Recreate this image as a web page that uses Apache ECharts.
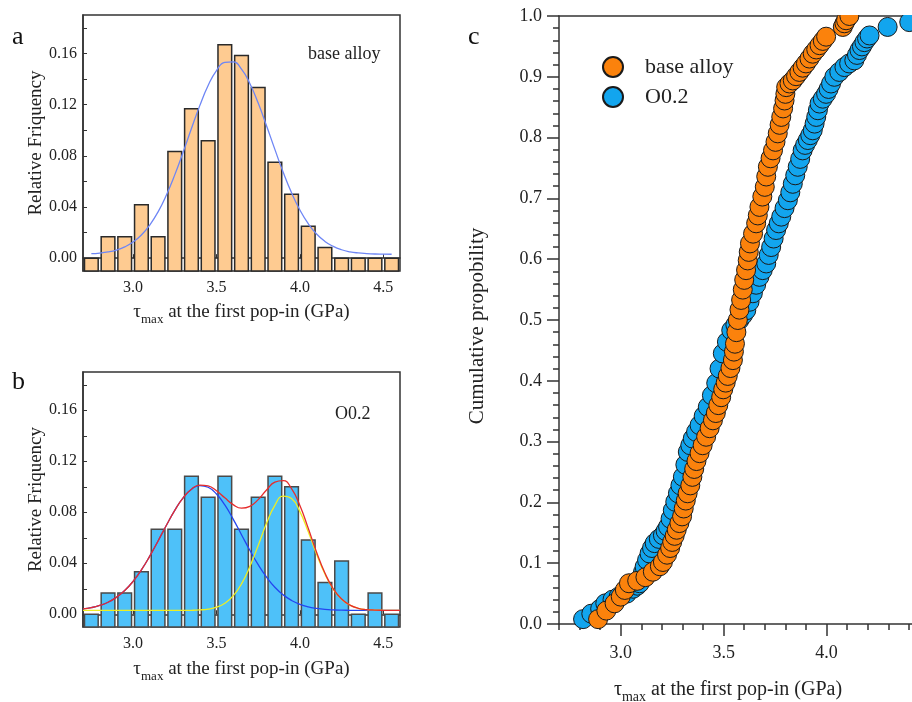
<!DOCTYPE html>
<html>
<head>
<meta charset="utf-8">
<script src="https://cdn.jsdelivr.net/npm/echarts@6/dist/echarts.min.js"></script>
<style>
  html, body { margin: 0; padding: 0; background: #fff; }
  #chart { width: 912px; height: 702px; }
</style>
</head>
<body>
<div id="chart"></div>
<script>
// histogram bins (centers, GPa)
const binCenters = [2.75, 2.85, 2.95, 3.05, 3.15, 3.25, 3.35, 3.45, 3.55, 3.65, 3.75, 3.85, 3.95, 4.05, 4.15, 4.25, 4.35, 4.45, 4.55];
const freqBase = [0, 0.0167, 0.0167, 0.0417, 0.0167, 0.0833, 0.1167, 0.0917, 0.1667, 0.1583, 0.1333, 0.075, 0.05, 0.025, 0.0083, 0, 0, 0, 0];
const freqO02 = [0, 0.0167, 0.0167, 0.0333, 0.0667, 0.0667, 0.1083, 0.0917, 0.1083, 0.0667, 0.0917, 0.1083, 0.1, 0.0583, 0.025, 0.0417, 0, 0.0167, 0];

// fitted curve
const fitXa = [2.75, 2.80, 2.85, 2.90, 2.95, 3.00, 3.05, 3.10, 3.15, 3.20, 3.25, 3.30, 3.35, 3.40, 3.45, 3.50, 3.55, 3.60, 3.65, 3.70, 3.75, 3.80, 3.85, 3.90, 3.95, 4.00, 4.05, 4.10, 4.15, 4.20, 4.25, 4.30, 4.35, 4.40, 4.45, 4.50, 4.55];
const fitBase = [0.0035, 0.0040, 0.0049, 0.0064, 0.0088, 0.0126, 0.0181, 0.0259, 0.0362, 0.0494, 0.0651, 0.0827, 0.1013, 0.1192, 0.1349, 0.1466, 0.1530, 0.1534, 0.1477, 0.1365, 0.1212, 0.1035, 0.0850, 0.0671, 0.0511, 0.0377, 0.0270, 0.0189, 0.0131, 0.0092, 0.0066, 0.0050, 0.0041, 0.0036, 0.0033, 0.0032, 0.0031];

// fitted curves (sum, peak 1, peak 2)
const fitXb = [2.70, 2.75, 2.80, 2.85, 2.90, 2.95, 3.00, 3.05, 3.10, 3.15, 3.20, 3.25, 3.30, 3.35, 3.40, 3.45, 3.50, 3.55, 3.60, 3.65, 3.70, 3.75, 3.80, 3.85, 3.90, 3.95, 4.00, 4.05, 4.10, 4.15, 4.20, 4.25, 4.30, 4.35, 4.40, 4.45, 4.50, 4.55, 4.60];
const fitSum = [0.0042, 0.0052, 0.0069, 0.0094, 0.0133, 0.0186, 0.0258, 0.0348, 0.0456, 0.0575, 0.0698, 0.0815, 0.0912, 0.0981, 0.1013, 0.1006, 0.0968, 0.0913, 0.0860, 0.0832, 0.0846, 0.0899, 0.0975, 0.1036, 0.1048, 0.0985, 0.0853, 0.0674, 0.0487, 0.0323, 0.0200, 0.0119, 0.0072, 0.0047, 0.0037, 0.0033, 0.0031, 0.0030, 0.0030];
const fitPeak1 = [0.0042, 0.0052, 0.0069, 0.0094, 0.0133, 0.0186, 0.0258, 0.0348, 0.0456, 0.0575, 0.0698, 0.0815, 0.0912, 0.0980, 0.1009, 0.0996, 0.0943, 0.0857, 0.0746, 0.0624, 0.0502, 0.0389, 0.0292, 0.0212, 0.0152, 0.0108, 0.0078, 0.0058, 0.0046, 0.0038, 0.0034, 0.0032, 0.0031, 0.0030, 0.0030, 0.0030, 0.0030, 0.0030, 0.0030];
const fitPeak2 = [0.0030, 0.0030, 0.0030, 0.0030, 0.0030, 0.0030, 0.0030, 0.0030, 0.0030, 0.0030, 0.0030, 0.0030, 0.0030, 0.0031, 0.0034, 0.0040, 0.0055, 0.0086, 0.0144, 0.0238, 0.0374, 0.0540, 0.0713, 0.0854, 0.0926, 0.0907, 0.0805, 0.0646, 0.0471, 0.0315, 0.0196, 0.0117, 0.0071, 0.0047, 0.0037, 0.0033, 0.0031, 0.0030, 0.0030];

// cumulative probability, panel c
const baseX = [2.89, 2.93, 2.97, 3.00, 3.02, 3.04, 3.08, 3.12, 3.156, 3.19, 3.205, 3.225, 3.24, 3.25, 3.262, 3.272, 3.285, 3.298, 3.306, 3.316, 3.325, 3.338, 3.348, 3.357, 3.368, 3.383, 3.398, 3.415, 3.432, 3.448, 3.462, 3.474, 3.488, 3.498, 3.51, 3.52, 3.533, 3.545, 3.55, 3.555, 3.562, 3.569, 3.577, 3.585, 3.593, 3.60, 3.609, 3.617, 3.622, 3.628, 3.643, 3.658, 3.666, 3.674, 3.688, 3.70, 3.707, 3.715, 3.728, 3.74, 3.752, 3.763, 3.772, 3.78, 3.789, 3.796, 3.80, 3.804, 3.82, 3.836, 3.852, 3.868, 3.884, 3.90, 3.917, 3.933, 3.95, 3.966, 3.982, 3.998, 4.079, 4.087, 4.095, 4.111];
const baseY = [0.008, 0.022, 0.034, 0.045, 0.056, 0.067, 0.071, 0.077, 0.086, 0.095, 0.102, 0.114, 0.125, 0.135, 0.145, 0.155, 0.166, 0.177, 0.19, 0.203, 0.215, 0.228, 0.242, 0.255, 0.268, 0.281, 0.294, 0.308, 0.322, 0.335, 0.347, 0.36, 0.373, 0.386, 0.397, 0.408, 0.421, 0.434, 0.448, 0.461, 0.48, 0.5, 0.517, 0.533, 0.55, 0.566, 0.582, 0.598, 0.612, 0.626, 0.642, 0.659, 0.672, 0.686, 0.703, 0.719, 0.736, 0.752, 0.766, 0.779, 0.793, 0.807, 0.821, 0.834, 0.848, 0.861, 0.872, 0.883, 0.889, 0.894, 0.901, 0.908, 0.915, 0.922, 0.93, 0.938, 0.945, 0.952, 0.959, 0.966, 0.982, 0.988, 0.993, 1.0];
const o02X = [2.817, 2.857, 2.90, 2.925, 2.96, 2.99, 3.03, 3.06, 3.08, 3.092, 3.10, 3.108, 3.116, 3.128, 3.14, 3.152, 3.165, 3.185, 3.205, 3.218, 3.23, 3.242, 3.253, 3.265, 3.278, 3.29, 3.302, 3.314, 3.326, 3.338, 3.35, 3.366, 3.383, 3.403, 3.423, 3.443, 3.464, 3.48, 3.496, 3.516, 3.537, 3.557, 3.577, 3.594, 3.61, 3.626, 3.642, 3.658, 3.674, 3.69, 3.707, 3.719, 3.731, 3.743, 3.755, 3.768, 3.78, 3.796, 3.812, 3.824, 3.836, 3.848, 3.86, 3.872, 3.884, 3.896, 3.909, 3.921, 3.933, 3.942, 3.95, 3.958, 3.966, 3.982, 3.998, 4.01, 4.022, 4.038, 4.062, 4.087, 4.11, 4.135, 4.148, 4.16, 4.172, 4.184, 4.197, 4.209, 4.297, 4.402];
const o02Y = [0.008, 0.017, 0.025, 0.034, 0.04, 0.045, 0.05, 0.058, 0.063, 0.067, 0.076, 0.085, 0.094, 0.105, 0.116, 0.125, 0.133, 0.14, 0.146, 0.153, 0.16, 0.173, 0.187, 0.201, 0.215, 0.228, 0.242, 0.262, 0.283, 0.294, 0.305, 0.316, 0.327, 0.342, 0.357, 0.376, 0.396, 0.42, 0.445, 0.464, 0.483, 0.492, 0.5, 0.508, 0.516, 0.53, 0.544, 0.558, 0.571, 0.582, 0.593, 0.607, 0.62, 0.634, 0.648, 0.659, 0.67, 0.684, 0.697, 0.71, 0.724, 0.738, 0.752, 0.765, 0.779, 0.788, 0.796, 0.804, 0.812, 0.823, 0.834, 0.845, 0.856, 0.864, 0.872, 0.88, 0.889, 0.9, 0.908, 0.916, 0.922, 0.927, 0.936, 0.944, 0.95, 0.957, 0.963, 0.968, 0.982, 0.99];

// tick labels
const xLabelsAB = [3.0, 3.5, 4.0, 4.5];
const yLabelsAB = [0, 0.04, 0.08, 0.12, 0.16];
const yTicksAB = [0, 0.02, 0.04, 0.06, 0.08, 0.10, 0.12, 0.14, 0.16, 0.18];
const xLabelsC = [3.0, 3.5, 4.0, 4.5];

const FONT = '"Liberation Serif", "Times New Roman", serif';
const INK = '#222';
const AXIS = '#333';
const BIN_HALF = 0.041;
const Y_MIN_AB = -0.01;

const pairs = (xs, ys) => xs.map((x, i) => [x, ys[i]]);

function histRender(fill, stroke) {
  return function (params, api) {
    const x = api.value(0);
    const v = api.value(1);
    const p0 = api.coord([x - BIN_HALF, Y_MIN_AB]);
    const p1 = api.coord([x + BIN_HALF, v]);
    return {
      type: 'rect',
      shape: { x: p0[0], y: p1[1], width: p1[0] - p0[0], height: p0[1] - p1[1] },
      style: { fill: fill, stroke: stroke, lineWidth: 1.5 }
    };
  };
}

const tauName = '{t|τ}{s|max}{t| at the first pop-in (GPa)}';
function tauStyle(size, sub) {
  return {
    rich: {
      t: { fontFamily: FONT, fontSize: size, color: INK, lineHeight: 28, verticalAlign: 'middle' },
      s: { fontFamily: FONT, fontSize: sub, color: INK, verticalAlign: 'bottom' }
    }
  };
}

function histX(grid, gap) {
  return {
    gridIndex: grid, type: 'value', min: 2.7, max: 4.6,
    axisLine: { show: true, lineStyle: { color: AXIS, width: 1.5 } },
    axisTick: { show: true, inside: true, length: 4, customValues: xLabelsAB, lineStyle: { color: AXIS } },
    axisLabel: { customValues: xLabelsAB, formatter: v => v.toFixed(1), fontFamily: FONT, fontSize: 16, color: INK, margin: 9 },
    splitLine: { show: false },
    name: tauName, nameLocation: 'middle', nameGap: gap, nameTextStyle: tauStyle(19, 13)
  };
}
function histY(grid) {
  return {
    gridIndex: grid, type: 'value', min: -0.01, max: 0.19,
    axisLine: { show: true, lineStyle: { color: AXIS, width: 1.5 } },
    axisTick: { show: true, inside: true, length: 4, customValues: yTicksAB, lineStyle: { color: AXIS } },
    axisLabel: { customValues: yLabelsAB, formatter: v => v.toFixed(2), fontFamily: FONT, fontSize: 16, color: INK, margin: 6 },
    splitLine: { show: false },
    name: 'Relative Friquency', nameLocation: 'middle', nameGap: 37,
    nameTextStyle: { fontFamily: FONT, fontSize: 19, color: INK }
  };
}

const chart = echarts.init(document.getElementById('chart'), null, { renderer: 'canvas' });
chart.setOption({
  animation: false,
  backgroundColor: '#fff',
  grid: [
    { left: 83, top: 15, width: 317, height: 256, show: true, borderColor: AXIS, borderWidth: 1.5, backgroundColor: 'transparent', outerBoundsMode: 'none' },
    { left: 83, top: 372, width: 317, height: 255, show: true, borderColor: AXIS, borderWidth: 1.5, backgroundColor: 'transparent', outerBoundsMode: 'none' },
    { left: 559, top: 16, width: 391, height: 608, outerBoundsMode: 'none' }
  ],
  legend: {
    data: ['base alloy', 'O0.2'],
    orient: 'vertical', left: 597, top: 51,
    icon: 'circle', itemWidth: 54, itemHeight: 20, itemGap: 8,
    textStyle: { fontFamily: FONT, fontSize: 22, color: INK, lineHeight: 20 }
  },
  xAxis: [
    histX(0, 27),
    histX(1, 28),
    {
      gridIndex: 2, type: 'value', min: 2.7, max: 4.6, position: 'bottom',
      axisLine: { show: true, lineStyle: { color: AXIS, width: 1.5 } },
      axisTick: { show: true, length: 12, customValues: xLabelsC, lineStyle: { color: AXIS, width: 1.5 } },
      axisLabel: { customValues: xLabelsC, formatter: v => v.toFixed(1), fontFamily: FONT, fontSize: 18, color: INK, margin: 20 },
      splitLine: { show: false },
      name: tauName, nameLocation: 'middle', nameGap: 52,
      nameTextStyle: Object.assign(tauStyle(20, 14), { padding: [0, 53, 0, 0] })
    },
    {
      gridIndex: 2, type: 'value', min: 2.7, max: 4.6, interval: 0.1, position: 'bottom',
      axisLine: { show: false },
      axisTick: { show: true, length: 6, lineStyle: { color: AXIS, width: 1.5 } },
      axisLabel: { show: false }, splitLine: { show: false }
    },
    {
      gridIndex: 2, type: 'value', min: 2.7, max: 4.6, position: 'top',
      axisLine: { show: true, lineStyle: { color: AXIS, width: 1.5 } },
      axisTick: { show: false }, axisLabel: { show: false }, splitLine: { show: false }
    }
  ],
  yAxis: [
    histY(0),
    histY(1),
    {
      gridIndex: 2, type: 'value', min: 0, max: 1, interval: 0.1,
      axisLine: { show: true, lineStyle: { color: AXIS, width: 1.5 } },
      axisTick: { show: true, length: 12, lineStyle: { color: AXIS, width: 1.5 } },
      minorTick: { show: true, splitNumber: 5, length: 6, lineStyle: { color: AXIS, width: 1.5 } },
      axisLabel: { formatter: v => v.toFixed(1), fontFamily: FONT, fontSize: 18, color: INK, margin: 17 },
      splitLine: { show: false },
      name: 'Cumulative propobility', nameLocation: 'middle', nameGap: 71,
      nameTextStyle: { fontFamily: FONT, fontSize: 21, color: INK, padding: [0, 12, 0, 0] }
    }
  ],
  series: [
    {
      type: 'custom', xAxisIndex: 0, yAxisIndex: 0, silent: true, z: 2,
      renderItem: histRender('#FECB91', '#2a2a2a'),
      encode: { x: 0, y: 1 },
      data: pairs(binCenters, freqBase)
    },
    {
      type: 'line', xAxisIndex: 0, yAxisIndex: 0, silent: true, z: 5,
      data: pairs(fitXa, fitBase), showSymbol: false, smooth: true,
      lineStyle: { color: '#6E86F5', width: 1.3 }
    },
    {
      type: 'custom', xAxisIndex: 1, yAxisIndex: 1, silent: true, z: 2,
      renderItem: histRender('#4EC1F9', '#4a4a4a'),
      encode: { x: 0, y: 1 },
      data: pairs(binCenters, freqO02)
    },
    {
      type: 'line', xAxisIndex: 1, yAxisIndex: 1, silent: true, z: 5,
      data: pairs(fitXb, fitPeak1), showSymbol: false, smooth: true,
      lineStyle: { color: '#2446F0', width: 1.3 }
    },
    {
      type: 'line', xAxisIndex: 1, yAxisIndex: 1, silent: true, z: 5,
      data: pairs(fitXb, fitPeak2), showSymbol: false, smooth: true,
      lineStyle: { color: '#EEEE22', width: 1.3 }
    },
    {
      type: 'line', xAxisIndex: 1, yAxisIndex: 1, silent: true, z: 6,
      data: pairs(fitXb, fitSum), showSymbol: false, smooth: true,
      lineStyle: { color: '#E62C2C', width: 1.3 }
    },
    {
      name: 'O0.2', type: 'scatter', xAxisIndex: 2, yAxisIndex: 2, z: 3,
      symbol: 'circle', symbolSize: 19,
      itemStyle: { color: '#12A5EE', borderColor: '#1a1a1a', borderWidth: 1, opacity: 1 },
      data: pairs(o02X, o02Y)
    },
    {
      name: 'base alloy', type: 'scatter', xAxisIndex: 2, yAxisIndex: 2, z: 4,
      symbol: 'circle', symbolSize: 19,
      itemStyle: { color: '#FB820C', borderColor: '#1a1a1a', borderWidth: 1, opacity: 1 },
      data: pairs(baseX, baseY)
    }
  ],
  graphic: [
    // hides the parts of markers that poke above the top frame of panel c
    { type: 'rect', z: 100, silent: true, shape: { x: 561, y: 0, width: 360, height: 15 }, style: { fill: '#fff' } },
    { type: 'text', x: 12, y: 37, style: { text: 'a', font: '26px ' + FONT, fill: '#111', verticalAlign: 'middle' } },
    { type: 'text', x: 12, y: 382, style: { text: 'b', font: '26px ' + FONT, fill: '#111', verticalAlign: 'middle' } },
    { type: 'text', x: 468, y: 37, style: { text: 'c', font: '26px ' + FONT, fill: '#111', verticalAlign: 'middle' } },
    { type: 'text', x: 308, y: 54, z: 10, style: { text: 'base alloy', font: '18px ' + FONT, fill: INK, verticalAlign: 'middle' } },
    { type: 'text', x: 335, y: 414, z: 10, style: { text: 'O0.2', font: '18px ' + FONT, fill: INK, verticalAlign: 'middle' } }
  ]
});
window.addEventListener('resize', function () {
  chart.resize();
});
</script>
</body>
</html>
